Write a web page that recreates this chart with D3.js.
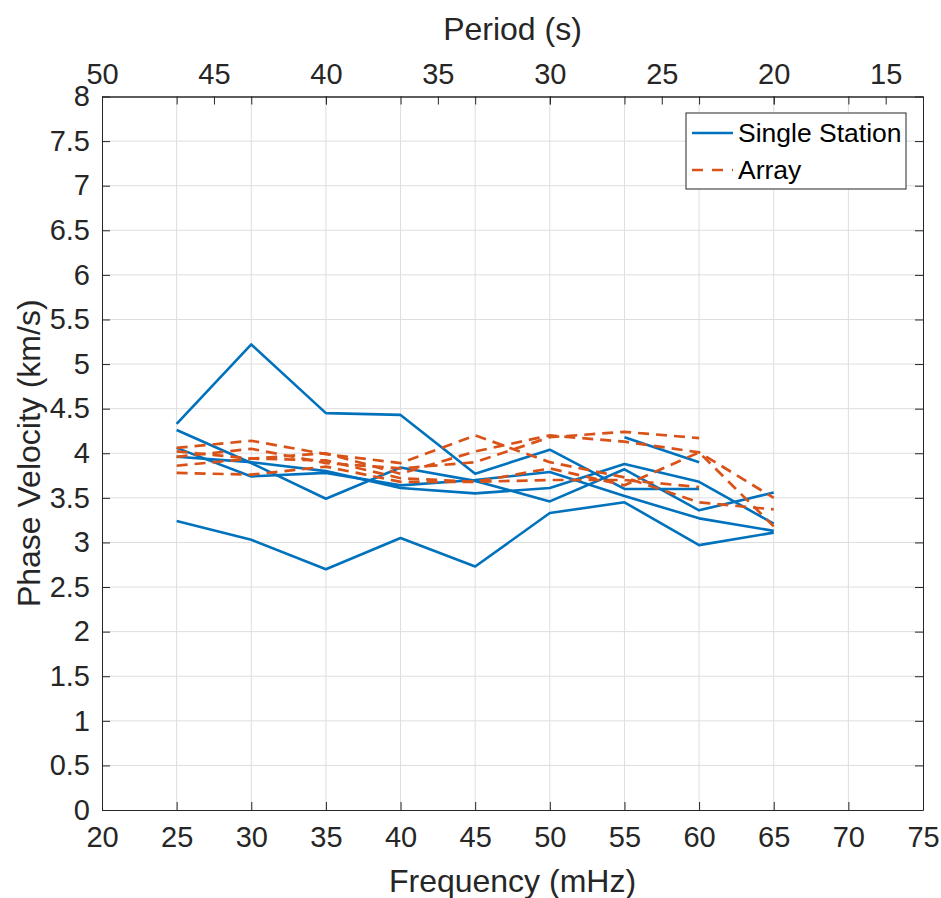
<!DOCTYPE html>
<html>
<head>
<meta charset="utf-8">
<script src="https://cdn.jsdelivr.net/npm/d3@7"></script>
<style>
  html, body { margin: 0; padding: 0; background: #ffffff; }
  svg { display: block; font-family: "Liberation Sans", Arial, Helvetica, sans-serif; }
</style>
</head>
<body>
<svg id="chart" width="941" height="898"></svg>
<script>
// ---------------- data ----------------
const frequencies = [25, 30, 35, 40, 45, 50, 55, 60, 65];   // mHz

const singleStation1 = [4.33, 5.22, 4.45, 4.43, 3.77, 4.04, 3.60, 3.60, null];
const singleStation2 = [4.26, 3.89, 3.49, 3.84, 3.69, 3.46, 3.82, 3.36, 3.56];
const singleStation3 = [4.06, 3.74, 3.78, 3.64, 3.70, 3.79, 3.52, 3.27, 3.13];
const singleStation4 = [3.96, 3.90, 3.80, 3.61, 3.55, 3.61, 3.88, 3.68, 3.21];
const singleStation5 = [3.24, 3.03, 2.70, 3.05, 2.73, 3.33, 3.45, 2.97, 3.11];
const singleStation6 = [null, null, null, null, null, null, 4.18, 3.90, null];

const array1 = [4.06, 4.14, 3.99, 3.89, 4.20, 3.90, 3.73, 3.45, 3.37];
const array2 = [4.02, 3.94, 4.00, 3.77, 4.02, 4.20, 4.13, 4.01, 3.50];
const array3 = [3.96, 4.05, 3.89, 3.83, 3.90, 4.18, 4.24, 4.17, null];
const array4 = [3.86, 3.94, 3.92, 3.72, 3.68, 3.83, 3.64, 4.01, 3.18];
const array5 = [3.78, 3.76, 3.85, 3.68, 3.68, 3.70, 3.70, 3.62, null];

const singleStationSeries = [singleStation1, singleStation2, singleStation3, singleStation4, singleStation5, singleStation6];
const arraySeries = [array1, array2, array3, array4, array5];

const freqTicks = [20, 25, 30, 35, 40, 45, 50, 55, 60, 65, 70, 75];
const periodTicks = [50, 45, 40, 35, 30, 25, 20, 15];
const velocityTicks = [0, 0.5, 1, 1.5, 2, 2.5, 3, 3.5, 4, 4.5, 5, 5.5, 6, 6.5, 7, 7.5, 8];

const legendLabels = ["Single Station", "Array"];
const xTitle = "Frequency (mHz)";
const yTitle = "Phase Velocity (km/s)";
const topTitle = "Period (s)";

// ---------------- layout ----------------
const L = 102, R = 923, T = 96.5, B = 810;
const blue = "#0072BD", orange = "#D95319";
const axisColor = "#262626";
const tickLen = 8;

const svg = d3.select("#chart");

const x = d3.scaleLinear().domain([20, 75]).range([L, R]);
const y = d3.scaleLinear().domain([0, 8]).range([B, T]);
// period axis on top: linear, 5 s per 7.5 mHz, 50 s at the left edge
const xp = d3.scaleLinear().domain([50, 50 - 55 / 1.5]).range([L, R]);

// grid
const grid = svg.append("g");
grid.selectAll("line.gx").data(freqTicks.slice(1, -1)).join("line")
  .attr("x1", d => x(d)).attr("x2", d => x(d)).attr("y1", T).attr("y2", B)
  .attr("stroke", "#dedede").attr("stroke-width", 1);
grid.selectAll("line.gy").data(velocityTicks.slice(1, -1)).join("line")
  .attr("x1", L).attr("x2", R).attr("y1", d => y(d)).attr("y2", d => y(d))
  .attr("stroke", "#dedede").attr("stroke-width", 1);

// lines
const line = d3.line()
  .defined(d => d[1] != null)
  .x(d => x(d[0])).y(d => y(d[1]));

svg.append("g").selectAll("path").data(singleStationSeries).join("path")
  .attr("d", s => line(frequencies.map((f, i) => [f, s[i]])))
  .attr("fill", "none").attr("stroke", blue).attr("stroke-width", 2.6)
  .attr("stroke-linejoin", "round");

svg.append("g").selectAll("path").data(arraySeries).join("path")
  .attr("d", s => line(frequencies.map((f, i) => [f, s[i]])))
  .attr("fill", "none").attr("stroke", orange).attr("stroke-width", 2.7)
  .attr("stroke-dasharray", "11,7");

// axes
const fontTick = 29;
const bottomAxis = d3.axisBottom(x).tickValues(freqTicks).tickFormat(d3.format("d"))
  .tickSizeInner(-tickLen).tickSizeOuter(0).tickPadding(tickLen + 8);
const gB = svg.append("g").attr("transform", `translate(0,${B})`).call(bottomAxis);

const leftAxis = d3.axisLeft(y).tickValues(velocityTicks).tickFormat(d => String(d))
  .tickSizeInner(-tickLen).tickSizeOuter(0).tickPadding(tickLen + 4);
const gL = svg.append("g").attr("transform", `translate(${L},0)`).call(leftAxis);

const rightAxis = d3.axisRight(y).tickValues(velocityTicks).tickFormat("")
  .tickSizeInner(-tickLen).tickSizeOuter(0);
const gR = svg.append("g").attr("transform", `translate(${R},0)`).call(rightAxis);

const topFreqAxis = d3.axisTop(x).tickValues(freqTicks).tickFormat("")
  .tickSizeInner(-tickLen).tickSizeOuter(0);
const gTF = svg.append("g").attr("transform", `translate(0,${T})`).call(topFreqAxis);

const topAxis = d3.axisTop(xp).tickValues(periodTicks).tickFormat(d3.format("d"))
  .tickSizeInner(-tickLen).tickSizeOuter(0).tickPadding(tickLen + 5);
const gT = svg.append("g").attr("transform", `translate(0,${T})`).call(topAxis);

[gB, gL, gR, gTF, gT].forEach(g => {
  g.select(".domain").attr("stroke", axisColor).attr("stroke-width", 1);
  g.selectAll(".tick line").attr("stroke", axisColor).attr("stroke-width", 1);
  g.selectAll(".tick text").attr("fill", axisColor)
    .style("font-size", fontTick + "px")
    .style("font-family", "'Liberation Sans', Arial, sans-serif");
});

// titles
const fontTitle = 32;
svg.append("text").attr("x", (L + R) / 2).attr("y", 892)
  .attr("text-anchor", "middle").attr("fill", axisColor)
  .style("font-size", fontTitle + "px").text(xTitle);
svg.append("text").attr("x", (L + R) / 2).attr("y", 40)
  .attr("text-anchor", "middle").attr("fill", axisColor)
  .style("font-size", fontTitle + "px").text(topTitle);
svg.append("text")
  .attr("transform", `translate(40,${(T + B) / 2}) rotate(-90)`)
  .attr("text-anchor", "middle").attr("fill", axisColor)
  .style("font-size", fontTitle + "px").text(yTitle);

// legend
const lg = svg.append("g");
lg.append("rect").attr("x", 686).attr("y", 113).attr("width", 220).attr("height", 76)
  .attr("fill", "#ffffff").attr("stroke", axisColor).attr("stroke-width", 1);
const legendItems = [
  { label: legendLabels[0], color: blue, dash: null, yy: 133 },
  { label: legendLabels[1], color: orange, dash: "11,9", yy: 170 }
];
legendItems.forEach(it => {
  lg.append("line").attr("x1", 692).attr("x2", 733).attr("y1", it.yy).attr("y2", it.yy)
    .attr("stroke", it.color).attr("stroke-width", 2.6)
    .attr("stroke-dasharray", it.dash);
  lg.append("text").attr("x", 738).attr("y", it.yy + 9)
    .attr("fill", "#000").style("font-size", "26.5px").text(it.label);
});
</script>
</body>
</html>
